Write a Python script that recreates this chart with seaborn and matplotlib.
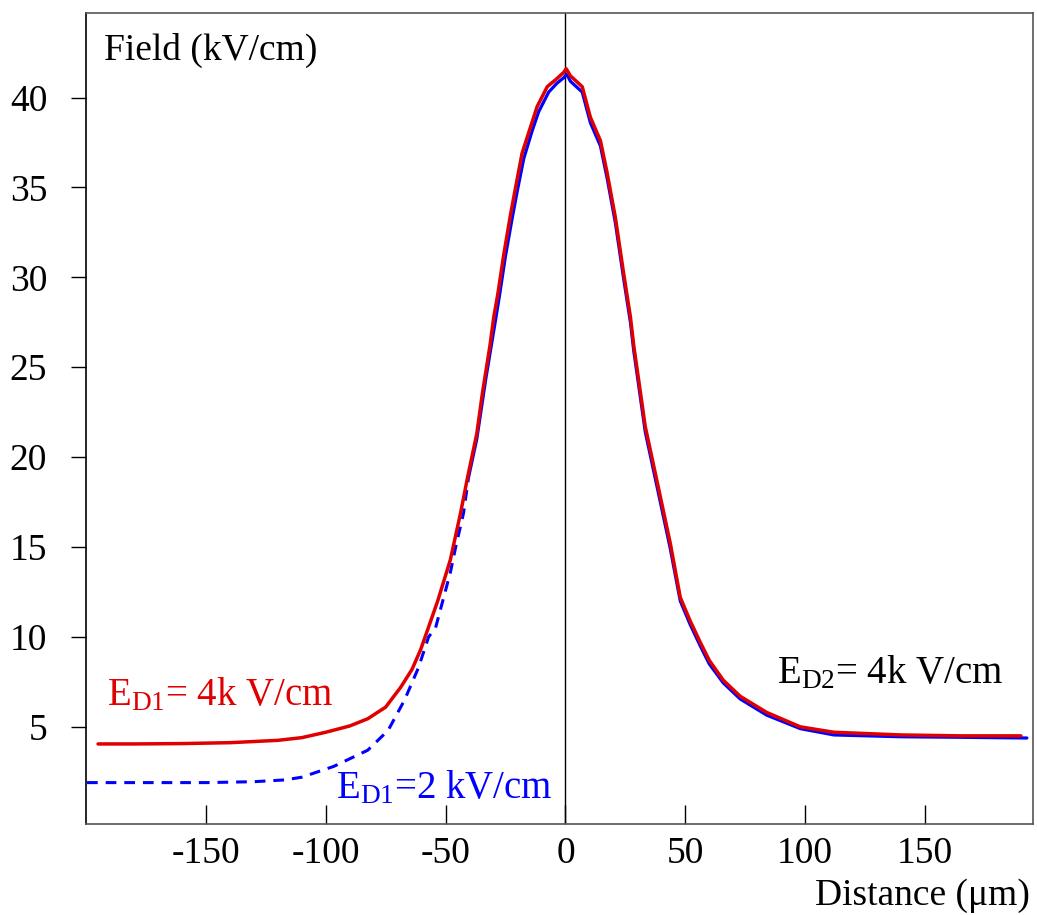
import matplotlib.pyplot as plt
import seaborn as sns

# === Field profiles ===
# drift field E_D1 = 4 kV/cm (red)
x_ed1_4 = [-195, -180, -160, -140, -120, -110, -100, -90, -82.5, -75, -68.75, -64, -60.4,
           -57.5, -53.3, -48, -43.75, -40.8, -37, -34.6, -31.5, -29.9, -28.3, -25.7, -22.9,
           -20.8, -18.1, -14.6, -11.8, -7.6, -4, -0.7, 0.3, 2.1, 7, 10.4, 14.6, 17.4, 20.8,
           24.3, 27.1, 28.5, 33.3, 38.3, 43.75, 47.9, 52, 56.25, 60, 65.8, 72.9, 84, 98,
           112, 140, 165, 190]
y_ed1_4 = [4.05, 4.05, 4.07, 4.12, 4.25, 4.4, 4.7, 5.05, 5.45, 6.1, 7.2, 8.2, 9.3,
           10.4, 12.0, 14.3, 16.9, 18.9, 21.3, 23.6, 26.2, 27.8, 29.0, 31.3, 33.5,
           35.0, 36.9, 38.35, 39.5, 40.6, 41.0, 41.4, 41.6, 41.2, 40.6, 38.9, 37.6, 35.8, 33.35,
           30.2, 27.8, 26.2, 21.7, 18.6, 15.2, 12.2, 10.9, 9.7, 8.7, 7.6, 6.7, 5.8, 5.0,
           4.7, 4.55, 4.5, 4.5]

# drift field E_D1 = 2 kV/cm (blue), dashed part on the left
x_ed1_2_dash = [-199.6, -175, -150, -130, -117, -110, -96.7, -82.5, -74, -67.1, -61.3,
                -57.1, -54.2, -52, -48, -45.8, -42.5, -40.4]
y_ed1_2_dash = [1.9, 1.9, 1.9, 1.95, 2.05, 2.2, 2.8, 3.7, 4.8, 6.5, 8.3,
                10.0, 10.5, 11.6, 13.6, 15.0, 16.9, 18.9]
# solid part of the same curve
x_ed1_2 = [-40.4, -37, -33.3, -29.2, -27.5, -25, -22.2, -20.1, -17.4, -14, -11.2, -7, -3.5,
           -0.7, 0.5, 2.1, 7, 10.4, 14.6, 17.4, 20.8, 24.3, 27.1, 28.5, 33.3, 38.3, 43.75,
           47.9, 52, 56.25, 60, 65.8, 72.9, 84, 98, 112, 140, 165, 192.5]
y_ed1_2 = [18.9, 21.0, 24.3, 27.6, 29.0, 31.2, 33.3, 34.8, 36.6, 38.1, 39.2, 40.3, 40.8,
           41.1, 41.3, 40.9, 40.3, 38.6, 37.3, 35.5, 33.05, 29.9, 27.5, 25.9, 21.4, 18.3, 14.9,
           12.0, 10.7, 9.5, 8.5, 7.45, 6.55, 5.65, 4.9, 4.55, 4.45, 4.42, 4.38]

x_ticks = [-150, -100, -50, 0, 50, 100, 150]
y_ticks = [5, 10, 15, 20, 25, 30, 35, 40]

# === Style ===
sns.set_style("white")
plt.rcParams['font.family'] = ['Liberation Serif', 'DejaVu Serif']
plt.rcParams['text.color'] = 'black'
plt.rcParams['mathtext.fontset'] = 'custom'
plt.rcParams['mathtext.rm'] = 'Liberation Serif'
plt.rcParams['mathtext.it'] = 'Liberation Serif:italic'

fig = plt.figure(figsize=(10.37, 9.15), dpi=100)
ax = fig.add_axes([0.083, 0.0995, 0.913, 0.8863])

blue = '#0000ff'
red = '#e00000'

sns.lineplot(x=x_ed1_2_dash, y=y_ed1_2_dash, ax=ax, color=blue, linewidth=2.2,
             linestyle=(0, (3.5, 2.6)), sort=False)
sns.lineplot(x=x_ed1_2, y=y_ed1_2, ax=ax, color=blue, linewidth=2.3, sort=False)
sns.lineplot(x=x_ed1_4, y=y_ed1_4, ax=ax, color=red, linewidth=2.5, sort=False)

ax.axvline(0, color='black', linewidth=1.0, zorder=1)

ax.set_xlim(-200, 195)
ax.set_ylim(-0.4, 44.7)
ax.set_xticks(x_ticks)
ax.set_xticklabels([str(v) for v in x_ticks])
ax.set_yticks(y_ticks)
ax.set_yticklabels([str(v) for v in y_ticks])
ax.tick_params(axis='x', direction='in', length=14, width=1.0, pad=9,
               labelsize=27, colors='black', bottom=True)
ax.tick_params(axis='y', direction='out', length=11, width=1.0, pad=17,
               labelsize=27, colors='black', left=True)
ax.set_xlabel('')
ax.set_ylabel('')

for side in ['left', 'right', 'top', 'bottom']:
    ax.spines[side].set_visible(True)
    ax.spines[side].set_color('#555555')
    ax.spines[side].set_linewidth(1.2)
ax.spines['left'].set_color('black')

# === Labels and annotations ===
ax.text(0.019, 0.954, 'Field (kV/cm)', transform=ax.transAxes, fontsize=27,
        ha='left', va='center', color='black')
ax.text(-191.3, 6.2, r'E$_{\rm D1}$= 4k V/cm', color=red, fontsize=28,
        ha='left', va='baseline')
ax.text(-95.8, 1.05, r'E$_{\rm D1}$=2 kV/cm', color=blue, fontsize=28,
        ha='left', va='baseline')
ax.text(88.3, 7.44, r'E$_{\rm D2}$= 4k V/cm', color='black', fontsize=28,
        ha='left', va='baseline')
fig.text(0.993, 0.011, 'Distance (\u03bcm)', fontsize=27, ha='right', va='baseline',
         color='black')

fig.savefig('out.png', dpi=100)
